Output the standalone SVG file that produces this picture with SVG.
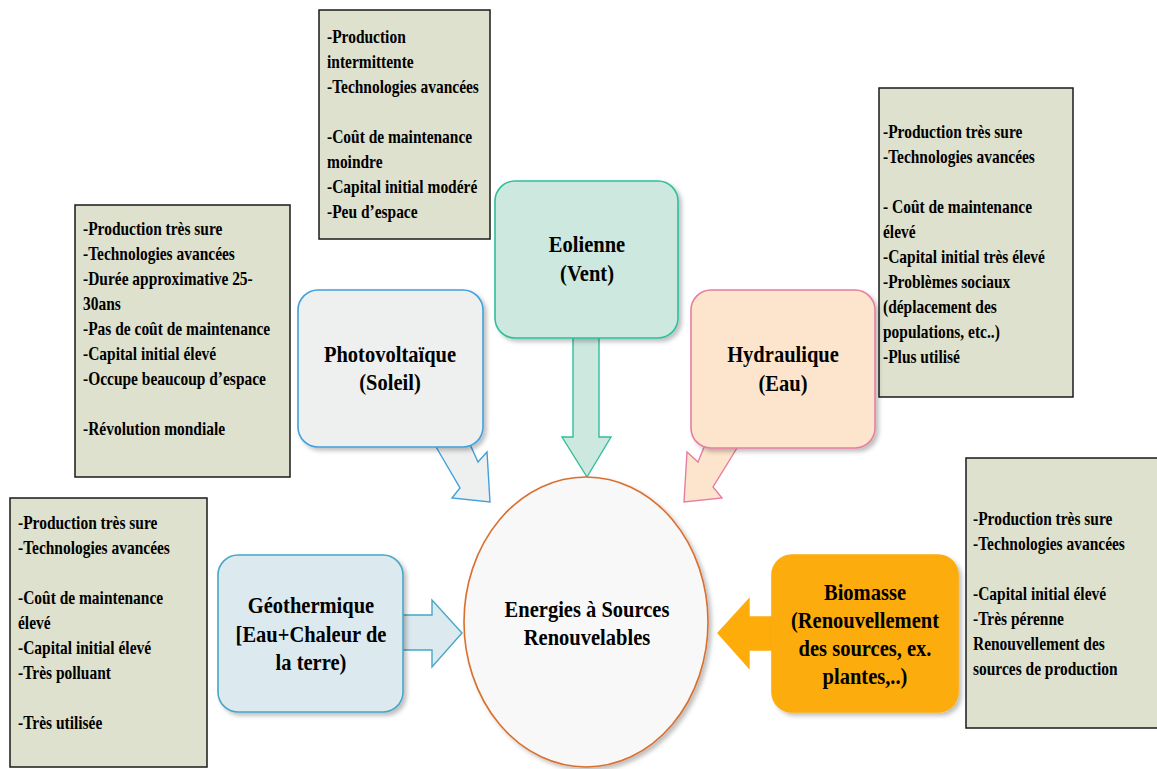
<svg xmlns="http://www.w3.org/2000/svg" width="1157" height="769" viewBox="0 0 1157 769">
<defs>
<filter id="sh" x="-10%" y="-10%" width="130%" height="130%">
<feDropShadow dx="3" dy="3" stdDeviation="2" flood-color="#000" flood-opacity="0.25"/>
</filter>
</defs>
<style>
.box{fill:#dee1cd;stroke:#1a1a1a;stroke-width:1.5}
.bt{font-family:"Liberation Serif","Times New Roman",serif;font-weight:bold;font-size:18px;fill:#000}
.tt{font-family:"Liberation Serif","Times New Roman",serif;font-weight:bold;font-size:24px;fill:#000;text-anchor:middle}
.node{stroke-width:1.6;filter:url(#sh)}
.arr{stroke-width:1.4;stroke-linejoin:miter}
</style>
<rect width="1157" height="769" fill="#ffffff"/>

<!-- info boxes -->
<g id="box-eolienne">
<rect class="box" x="319" y="10" width="171" height="229"/>
<g transform="translate(327,0) scale(0.86,1)">
<text class="bt" x="0" y="43">-Production</text>
<text class="bt" x="0" y="68">intermittente</text>
<text class="bt" x="0" y="93">-Technologies avancées</text>
<text class="bt" x="0" y="143">-Coût de maintenance</text>
<text class="bt" x="0" y="168">moindre</text>
<text class="bt" x="0" y="193">-Capital initial modéré</text>
<text class="bt" x="0" y="218">-Peu d’espace</text>
</g>
</g>

<g id="box-photovoltaique">
<rect class="box" x="75" y="205" width="215" height="272"/>
<g transform="translate(83,0) scale(0.86,1)">
<text class="bt" x="0" y="235">-Production très sure</text>
<text class="bt" x="0" y="260">-Technologies avancées</text>
<text class="bt" x="0" y="285">-Durée approximative 25-</text>
<text class="bt" x="0" y="310">30ans</text>
<text class="bt" x="0" y="335">-Pas de coût de maintenance</text>
<text class="bt" x="0" y="360">-Capital initial élevé</text>
<text class="bt" x="0" y="385">-Occupe beaucoup d’espace</text>
<text class="bt" x="0" y="435">-Révolution mondiale</text>
</g>
</g>

<g id="box-hydraulique">
<rect class="box" x="879" y="88" width="194" height="309"/>
<g transform="translate(883,0) scale(0.86,1)">
<text class="bt" x="0" y="138">-Production très sure</text>
<text class="bt" x="0" y="163">-Technologies avancées</text>
<text class="bt" x="0" y="213">- Coût de maintenance</text>
<text class="bt" x="0" y="238">élevé</text>
<text class="bt" x="0" y="263">-Capital initial très élevé</text>
<text class="bt" x="0" y="288">-Problèmes sociaux</text>
<text class="bt" x="0" y="313">(déplacement des</text>
<text class="bt" x="0" y="338">populations, etc..)</text>
<text class="bt" x="0" y="363">-Plus utilisé</text>
</g>
</g>

<g id="box-geothermique">
<rect class="box" x="10" y="498" width="197" height="269"/>
<g transform="translate(18,0) scale(0.86,1)">
<text class="bt" x="0" y="529">-Production très sure</text>
<text class="bt" x="0" y="554">-Technologies avancées</text>
<text class="bt" x="0" y="604">-Coût de maintenance</text>
<text class="bt" x="0" y="629">élevé</text>
<text class="bt" x="0" y="654">-Capital initial élevé</text>
<text class="bt" x="0" y="679">-Très polluant</text>
<text class="bt" x="0" y="729">-Très utilisée</text>
</g>
</g>

<g id="box-biomasse">
<rect class="box" x="966" y="458" width="200" height="270"/>
<g transform="translate(973,0) scale(0.86,1)">
<text class="bt" x="0" y="525">-Production très sure</text>
<text class="bt" x="0" y="550">-Technologies avancées</text>
<text class="bt" x="0" y="600">-Capital initial élevé</text>
<text class="bt" x="0" y="625">-Très pérenne</text>
<text class="bt" x="0" y="650">Renouvellement des</text>
<text class="bt" x="0" y="675">sources de production</text>
</g>
</g>

<!-- connectors -->
<g id="connectors">
<polygon class="arr" points="432,440 460,488 452,498 490,502 487,452 478,462 468,440" fill="#eeefef" stroke="#41a0dc"/>
<polygon class="arr" points="573,330 573,437 562,437 587,477 611,437 599,437 599,330" fill="#cde8df" stroke="#2fbf9b"/>
<polygon class="arr" points="742,440 713,487 722,498 684,502 687,452 698,462 707,440" fill="#fde4cc" stroke="#e57fa0"/>
<polygon class="arr" points="398,615 432,615 432,600 462,633 432,667 432,650 398,650" fill="#dce9ef" stroke="#46a7c7"/>
<polygon class="arr" points="778,617 749,617 749,599 718,633 749,668 749,650 778,650" fill="#fdac0a" stroke="#fdac0a"/>
</g>

<!-- nodes -->
<g id="node-photovoltaique">
<rect class="node" x="298" y="290" width="185" height="157" rx="20" fill="#eeefef" stroke="#41a0dc"/>
<g transform="translate(390,0) scale(0.855,1)">
<text class="tt" x="0" y="362">Photovoltaïque</text>
<text class="tt" x="0" y="390">(Soleil)</text>
</g>
</g>

<g id="node-eolienne">
<rect class="node" x="495" y="181" width="183" height="157" rx="20" fill="#cde8df" stroke="#2fbf9b"/>
<g transform="translate(587,0) scale(0.855,1)">
<text class="tt" x="0" y="252">Eolienne</text>
<text class="tt" x="0" y="281">(Vent)</text>
</g>
</g>

<g id="node-hydraulique">
<rect class="node" x="691" y="290" width="184" height="158" rx="20" fill="#fde4cc" stroke="#e57fa0"/>
<g transform="translate(783,0) scale(0.855,1)">
<text class="tt" x="0" y="362">Hydraulique</text>
<text class="tt" x="0" y="391">(Eau)</text>
</g>
</g>

<g id="node-geothermique">
<rect class="node" x="218" y="555" width="185" height="157" rx="20" fill="#dce9ef" stroke="#46a7c7"/>
<g transform="translate(311,0) scale(0.855,1)">
<text class="tt" x="0" y="613">Géothermique</text>
<text class="tt" x="0" y="642">[Eau+Chaleur de</text>
<text class="tt" x="0" y="670">la terre)</text>
</g>
</g>

<g id="node-biomasse">
<rect class="node" x="772" y="555" width="186" height="157" rx="20" fill="#fdac0a" stroke="#fdac0a"/>
<g transform="translate(865,0) scale(0.855,1)">
<text class="tt" x="0" y="600">Biomasse</text>
<text class="tt" x="0" y="628">(Renouvellement</text>
<text class="tt" x="0" y="656">des sources, ex.</text>
<text class="tt" x="0" y="684">plantes,..)</text>
</g>
</g>

<g id="node-center">
<ellipse class="node" cx="586" cy="622" rx="122" ry="145" fill="#f8f8f8" stroke="#d9702f"/>
<g transform="translate(587,0) scale(0.855,1)">
<text class="tt" x="0" y="617">Energies à Sources</text>
<text class="tt" x="0" y="645">Renouvelables</text>
</g>
</g>
</svg>
